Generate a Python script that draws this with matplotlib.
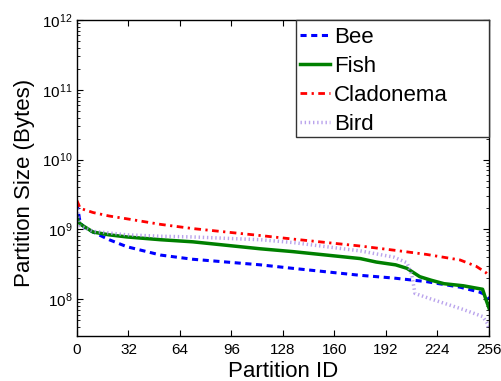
import matplotlib
matplotlib.use("Agg")
import matplotlib.pyplot as plt
from matplotlib.patches import Rectangle
import numpy as np

plt.rcParams['font.family'] = ['Liberation Sans', 'DejaVu Sans']
plt.rcParams['mathtext.fontset'] = 'custom'
plt.rcParams['mathtext.rm'] = 'Liberation Sans'

# Partition IDs sampled along each curve and log10 of partition size
bee_x = [0, 2, 5, 10, 20, 31, 52, 72, 93, 114, 134, 155, 176, 197, 217, 238, 250, 254, 256]
bee_log = [9.37, 9.09, 9.02, 8.96, 8.85, 8.75, 8.63, 8.57, 8.53, 8.49, 8.44, 8.39, 8.34, 8.30, 8.25, 8.17, 8.10, 8.06, 8.00]

fish_x = [0, 1, 3, 10, 20, 31, 52, 72, 93, 114, 134, 155, 176, 186, 198, 205, 213, 220, 228, 240, 252, 254, 256]
fish_log = [9.18, 9.10, 9.06, 8.96, 8.92, 8.89, 8.85, 8.82, 8.77, 8.72, 8.68, 8.63, 8.58, 8.53, 8.49, 8.44, 8.32, 8.27, 8.22, 8.19, 8.14, 8.00, 7.87]

clad_x = [0, 2, 10, 20, 31, 52, 72, 93, 114, 134, 155, 176, 197, 217, 238, 248, 254, 256]
clad_log = [9.41, 9.30, 9.24, 9.19, 9.15, 9.07, 9.01, 8.96, 8.91, 8.86, 8.81, 8.76, 8.70, 8.64, 8.56, 8.47, 8.38, 8.33]

bird_x = [0, 2, 10, 31, 52, 72, 93, 114, 134, 155, 176, 197, 205, 208, 210, 220, 228, 240, 252, 255, 256]
bird_log = [9.30, 9.05, 8.97, 8.92, 8.90, 8.89, 8.87, 8.85, 8.81, 8.75, 8.69, 8.60, 8.52, 8.35, 8.08, 8.00, 7.94, 7.85, 7.75, 7.65, 7.56]

labels = ['Bee', 'Fish', 'Cladonema', 'Bird']
x_ticks = [0, 32, 64, 96, 128, 160, 192, 224, 256]

W, H = 502, 381
fig = plt.figure(figsize=(W / 100, H / 100), dpi=100)
ax = fig.add_axes([77 / W, 1 - 336 / H, (489 - 77) / W, (336 - 20) / H])

ax.plot(bee_x, 10**np.array(bee_log), color='#0000ff', lw=2.2, ls=(0, (2, 1.5)), label=labels[0])
ax.plot(fish_x, 10**np.array(fish_log), color='#008000', lw=2.5, ls='-', label=labels[1])
ax.plot(clad_x, 10**np.array(clad_log), color='#ff0000', lw=2.0, ls=(0, (2.4, 1.6, 0.8, 1.6)), label=labels[2])
ax.plot(bird_x, 10**np.array(bird_log), color='#a98ee8', lw=2.5, ls=(0, (0.4, 0.8)), alpha=0.8, label=labels[3])

ax.set_yscale('log')
ax.set_ylim(10**7.47, 1e12)
ax.set_xlim(0, 256)
ax.set_xticks(x_ticks)
ax.set_xticklabels([str(t) for t in x_ticks])
ax.set_yticks([1e8, 1e9, 1e10, 1e11, 1e12])
ax.tick_params(which='both', direction='in', top=True, right=True, labelsize=11)
ax.tick_params(which='major', length=4)
ax.tick_params(which='minor', length=2)
ax.tick_params(axis='x', pad=5)
for s in ax.spines.values():
    s.set_linewidth(1.0)

ax.set_xlabel('Partition ID', fontsize=16, labelpad=3)
ax.set_ylabel('Partition Size (Bytes)', fontsize=16)
ax.yaxis.set_label_coords((35 - 77) / 412, (336 - 183) / 316)

leg = ax.legend(loc='upper left', fontsize=16, handlelength=1.35, handletextpad=0.18,
                frameon=False, borderpad=0.0, borderaxespad=0.0,
                labelspacing=0.36,
                bbox_to_anchor=(300 / W, 1 - 27 / H), bbox_transform=fig.transFigure)
fig.add_artist(Rectangle((296 / W, 1 - 137 / H), (489 - 296) / W, (137 - 20) / H,
                         transform=fig.transFigure, fill=True, facecolor='white',
                         edgecolor='#333333', lw=1.0, zorder=4))
leg.set_zorder(5)
leg.remove()
fig.add_artist(leg)

fig.savefig('out.png', dpi=100)
